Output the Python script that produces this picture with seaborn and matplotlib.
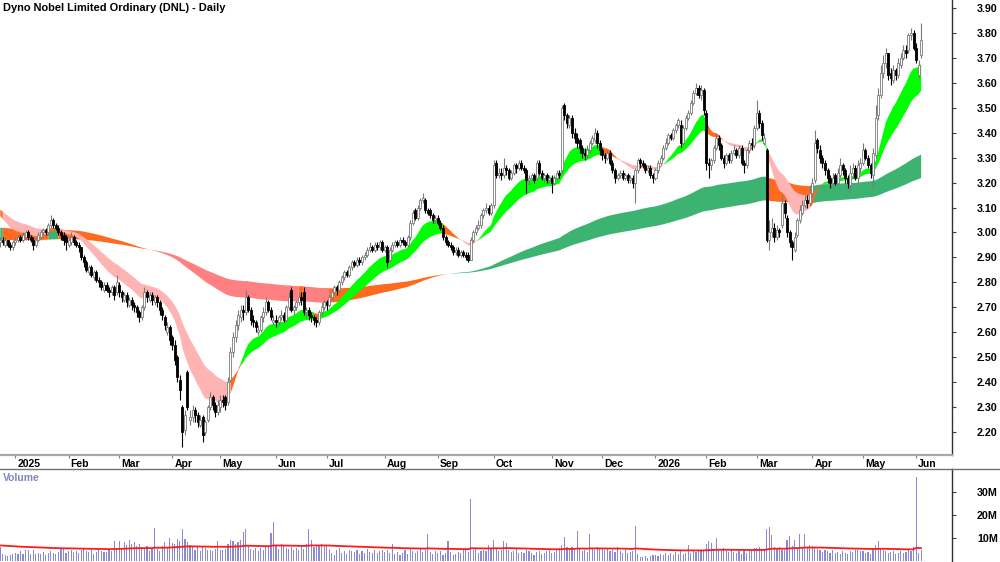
import numpy as np
import pandas as pd
import matplotlib
matplotlib.use("Agg")
import matplotlib.pyplot as plt
import seaborn as sns
from matplotlib.transforms import ScaledTranslation
from matplotlib.lines import Line2D

# ---- data (ASX trading days, 20 Dec 2024 .. 3 Jun 2026) ----
start_date = "2024-12-20"
end_date = "2026-06-03"
holidays = ["2024-12-25", "2024-12-26", "2025-01-01", "2025-01-27", "2025-04-18",
            "2025-04-21", "2025-04-25", "2025-06-09", "2025-12-25", "2025-12-26",
            "2026-01-01", "2026-01-26", "2026-04-03", "2026-04-06"]

closes = [
    2.97, 2.96, 2.97, 2.95, 2.94, 2.96,
    2.97, 2.98, 2.97, 2.99, 3.00, 2.98, 2.97, 2.95, 2.97, 2.99, 3.00, 3.01, 3.00, 3.03, 3.05, 3.03, 3.02, 3.00, 2.99, 2.97, 2.96,
    2.97, 2.98, 2.96, 2.95, 2.94, 2.90, 2.88, 2.85, 2.86, 2.83, 2.84, 2.81, 2.80, 2.78, 2.79, 2.77, 2.76, 2.78, 2.75, 2.80,
    2.76, 2.74, 2.75, 2.72, 2.73, 2.71, 2.70, 2.68, 2.66, 2.70, 2.76, 2.74, 2.75, 2.73, 2.74, 2.72, 2.69, 2.67, 2.63, 2.62, 2.57,
    2.55, 2.49, 2.42, 2.37, 2.20, 2.27, 2.30, 2.26, 2.29, 2.27, 2.24, 2.25, 2.19, 2.24, 2.30, 2.34, 2.31, 2.28, 2.31,
    2.33, 2.32, 2.31, 2.40, 2.52, 2.58, 2.63, 2.67, 2.69, 2.68, 2.74, 2.69, 2.65, 2.64, 2.62, 2.61, 2.66, 2.68, 2.72, 2.69, 2.66, 2.65,
    2.64, 2.66, 2.67, 2.65, 2.70, 2.74, 2.69, 2.70, 2.72, 2.74, 2.73, 2.68, 2.69, 2.67, 2.66, 2.65, 2.64, 2.68, 2.70, 2.72,
    2.71, 2.74, 2.76, 2.78, 2.77, 2.80, 2.82, 2.84, 2.83, 2.86, 2.88, 2.87, 2.89, 2.88, 2.90, 2.91, 2.93, 2.94, 2.93, 2.95, 2.94, 2.96, 2.93,
    2.94, 2.88, 2.93, 2.95, 2.96, 2.95, 2.97, 2.96, 2.95, 2.98, 3.04, 3.08, 3.06, 3.10, 3.13, 3.14, 3.09, 3.08, 3.07, 3.05, 3.06,
    3.04, 3.02, 2.98, 2.96, 2.95, 2.94, 2.92, 2.93, 2.91, 2.92, 2.91, 2.90, 2.89, 2.97, 3.00, 3.02, 3.03, 3.07, 3.09, 3.10, 3.08, 3.11,
    3.27, 3.23, 3.24, 3.23, 3.26, 3.25, 3.22, 3.24, 3.27, 3.26, 3.28, 3.26, 3.25, 3.21, 3.22, 3.23, 3.21, 3.28, 3.24, 3.22, 3.23, 3.21, 3.22,
    3.20, 3.22, 3.24, 3.23, 3.50, 3.47, 3.44, 3.46, 3.40, 3.38, 3.36, 3.34, 3.32, 3.31, 3.33, 3.36, 3.38, 3.40, 3.36, 3.33,
    3.31, 3.30, 3.32, 3.28, 3.25, 3.22, 3.23, 3.24, 3.22, 3.23, 3.21, 3.22, 3.20, 3.25, 3.29, 3.28, 3.27, 3.25, 3.26, 3.23, 3.22,
    3.25, 3.28, 3.30, 3.34, 3.36, 3.39, 3.38, 3.41, 3.43, 3.45, 3.36, 3.42, 3.46, 3.48, 3.52, 3.56, 3.58, 3.55, 3.57, 3.49,
    3.28, 3.27, 3.29, 3.34, 3.38, 3.35, 3.30, 3.28, 3.31, 3.29, 3.32, 3.33, 3.31, 3.34, 3.28, 3.27, 3.33, 3.36, 3.35, 3.42,
    3.48, 3.44, 3.39, 3.38, 2.97, 3.00, 3.02, 2.98, 3.01, 3.00, 3.12, 3.08, 3.00, 2.96, 2.94, 2.98, 3.05, 3.09, 3.11, 3.13, 3.12, 3.16,
    3.20, 3.36, 3.34, 3.30, 3.28, 3.25, 3.22, 3.20, 3.22, 3.20, 3.24, 3.27, 3.25, 3.22, 3.20, 3.24, 3.26, 3.22, 3.27, 3.28,
    3.33, 3.30, 3.27, 3.24, 3.32, 3.46, 3.55, 3.64, 3.68, 3.72, 3.63, 3.62, 3.65, 3.63, 3.68, 3.70, 3.73, 3.72, 3.79, 3.80, 3.74,
    3.69, 3.67, 3.77,
]

opens = [
    2.96, 2.97, 2.95, 2.97, 2.95, 2.94,
    2.96, 2.97, 2.98, 2.97, 2.98, 3.00, 2.98, 2.97, 2.95, 2.97, 2.98, 3.00, 3.01, 3.00, 3.03, 3.05, 3.03, 3.02, 3.00, 2.99, 2.98,
    2.95, 2.96, 2.98, 2.96, 2.95, 2.94, 2.90, 2.88, 2.84, 2.86, 2.82, 2.84, 2.81, 2.80, 2.77, 2.79, 2.77, 2.76, 2.78, 2.76,
    2.79, 2.76, 2.73, 2.75, 2.71, 2.73, 2.71, 2.70, 2.68, 2.66, 2.70, 2.76, 2.73, 2.75, 2.72, 2.74, 2.72, 2.69, 2.66, 2.60, 2.62,
    2.58, 2.55, 2.50, 2.41, 2.30, 2.21, 2.44, 2.25, 2.26, 2.29, 2.27, 2.23, 2.26, 2.20, 2.25, 2.30, 2.34, 2.31, 2.28,
    2.30, 2.33, 2.34, 2.32, 2.41, 2.52, 2.58, 2.63, 2.66, 2.69, 2.68, 2.74, 2.69, 2.65, 2.64, 2.60, 2.61, 2.66, 2.68, 2.72, 2.69, 2.64,
    2.65, 2.64, 2.66, 2.67, 2.65, 2.70, 2.77, 2.69, 2.70, 2.72, 2.74, 2.76, 2.68, 2.69, 2.67, 2.66, 2.65, 2.64, 2.68, 2.70,
    2.72, 2.71, 2.74, 2.76, 2.78, 2.77, 2.80, 2.82, 2.84, 2.83, 2.86, 2.88, 2.87, 2.89, 2.88, 2.90, 2.91, 2.93, 2.94, 2.93, 2.95, 2.94, 2.96,
    2.93, 2.94, 2.89, 2.93, 2.95, 2.96, 2.95, 2.97, 2.96, 2.95, 2.98, 3.04, 3.09, 3.06, 3.10, 3.13, 3.13, 3.09, 3.09, 3.07, 3.05,
    3.06, 3.04, 3.02, 2.98, 2.96, 2.95, 2.94, 2.92, 2.93, 2.91, 2.92, 2.91, 2.91, 2.89, 2.97, 3.00, 3.02, 3.03, 3.07, 3.09, 3.10, 3.08,
    3.11, 3.28, 3.23, 3.24, 3.23, 3.26, 3.25, 3.22, 3.24, 3.27, 3.26, 3.28, 3.26, 3.25, 3.21, 3.22, 3.23, 3.22, 3.28, 3.24, 3.22, 3.23, 3.21,
    3.22, 3.20, 3.22, 3.24, 3.25, 3.51, 3.47, 3.43, 3.46, 3.40, 3.38, 3.37, 3.34, 3.32, 3.31, 3.33, 3.36, 3.37, 3.40, 3.36,
    3.33, 3.31, 3.30, 3.32, 3.28, 3.25, 3.22, 3.23, 3.24, 3.22, 3.23, 3.21, 3.22, 3.20, 3.25, 3.29, 3.28, 3.27, 3.25, 3.26, 3.23,
    3.22, 3.25, 3.28, 3.30, 3.34, 3.36, 3.39, 3.38, 3.41, 3.43, 3.43, 3.36, 3.42, 3.46, 3.48, 3.52, 3.56, 3.58, 3.55, 3.57,
    3.48, 3.28, 3.27, 3.29, 3.34, 3.38, 3.35, 3.30, 3.28, 3.31, 3.29, 3.32, 3.33, 3.31, 3.34, 3.28, 3.27, 3.33, 3.36, 3.35,
    3.42, 3.48, 3.44, 3.36, 3.33, 2.97, 3.00, 3.02, 2.98, 3.01, 3.03, 3.12, 3.06, 3.00, 2.96, 2.93, 2.99, 3.05, 3.08, 3.11, 3.13, 3.12,
    3.16, 3.21, 3.37, 3.33, 3.30, 3.28, 3.25, 3.22, 3.20, 3.23, 3.20, 3.23, 3.27, 3.25, 3.22, 3.19, 3.24, 3.26, 3.22, 3.26,
    3.28, 3.33, 3.30, 3.27, 3.23, 3.31, 3.47, 3.55, 3.64, 3.68, 3.72, 3.64, 3.61, 3.65, 3.63, 3.67, 3.70, 3.73, 3.73, 3.79, 3.80,
    3.74, 3.63, 3.71,
]

highs = [
    2.98, 2.98, 2.98, 2.97, 2.96, 2.97,
    2.98, 2.99, 2.99, 3.00, 3.01, 3.01, 2.99, 2.98, 2.98, 3.00, 3.01, 3.02, 3.02, 3.04, 3.07, 3.06, 3.04, 3.03, 3.01, 3.00, 2.99,
    2.98, 3.00, 2.99, 2.97, 2.96, 2.94, 2.91, 2.89, 2.87, 2.87, 2.85, 2.85, 2.82, 2.81, 2.80, 2.80, 2.78, 2.79, 2.79, 2.83,
    2.80, 2.77, 2.76, 2.76, 2.74, 2.74, 2.72, 2.71, 2.69, 2.71, 2.78, 2.77, 2.76, 2.76, 2.75, 2.75, 2.73, 2.70, 2.67, 2.64, 2.63,
    2.59, 2.57, 2.51, 2.43, 2.31, 2.29, 2.45, 2.29, 2.31, 2.30, 2.28, 2.27, 2.27, 2.25, 2.31, 2.36, 2.35, 2.32, 2.33,
    2.35, 2.35, 2.35, 2.42, 2.54, 2.60, 2.65, 2.69, 2.71, 2.71, 2.77, 2.75, 2.70, 2.67, 2.65, 2.63, 2.67, 2.70, 2.74, 2.73, 2.70, 2.67,
    2.67, 2.67, 2.69, 2.68, 2.71, 2.76, 2.78, 2.71, 2.73, 2.76, 2.76, 2.78, 2.70, 2.70, 2.68, 2.67, 2.66, 2.69, 2.72, 2.73,
    2.73, 2.75, 2.77, 2.79, 2.79, 2.81, 2.83, 2.85, 2.85, 2.87, 2.89, 2.89, 2.90, 2.90, 2.91, 2.92, 2.94, 2.96, 2.95, 2.96, 2.96, 2.97, 2.97,
    2.95, 2.95, 2.94, 2.96, 2.97, 2.97, 2.98, 2.98, 2.97, 2.99, 3.05, 3.09, 3.10, 3.11, 3.14, 3.16, 3.14, 3.10, 3.10, 3.08, 3.07,
    3.07, 3.05, 3.03, 2.99, 2.97, 2.96, 2.95, 2.94, 2.94, 2.93, 2.93, 2.92, 2.92, 2.98, 3.01, 3.03, 3.05, 3.08, 3.10, 3.12, 3.11, 3.12,
    3.29, 3.29, 3.26, 3.26, 3.30, 3.27, 3.26, 3.25, 3.28, 3.28, 3.29, 3.29, 3.27, 3.26, 3.23, 3.24, 3.24, 3.29, 3.29, 3.25, 3.24, 3.24, 3.23,
    3.23, 3.23, 3.25, 3.25, 3.51, 3.52, 3.48, 3.47, 3.47, 3.42, 3.40, 3.38, 3.35, 3.34, 3.35, 3.37, 3.39, 3.42, 3.41, 3.37,
    3.34, 3.32, 3.33, 3.33, 3.29, 3.26, 3.24, 3.25, 3.25, 3.24, 3.24, 3.23, 3.23, 3.26, 3.30, 3.30, 3.29, 3.28, 3.27, 3.27, 3.24,
    3.26, 3.29, 3.31, 3.35, 3.38, 3.40, 3.40, 3.42, 3.44, 3.46, 3.45, 3.43, 3.47, 3.49, 3.53, 3.57, 3.60, 3.59, 3.59, 3.58,
    3.49, 3.30, 3.30, 3.35, 3.40, 3.39, 3.36, 3.31, 3.32, 3.32, 3.33, 3.35, 3.34, 3.35, 3.35, 3.29, 3.34, 3.37, 3.38, 3.43,
    3.53, 3.49, 3.45, 3.40, 3.34, 3.05, 3.06, 3.04, 3.03, 3.02, 3.15, 3.13, 3.07, 3.01, 2.97, 3.00, 3.06, 3.11, 3.13, 3.15, 3.15, 3.19,
    3.22, 3.41, 3.38, 3.35, 3.31, 3.29, 3.26, 3.23, 3.24, 3.24, 3.26, 3.30, 3.28, 3.26, 3.23, 3.27, 3.28, 3.27, 3.29, 3.30,
    3.36, 3.34, 3.31, 3.28, 3.34, 3.51, 3.58, 3.67, 3.71, 3.74, 3.72, 3.66, 3.67, 3.66, 3.70, 3.72, 3.75, 3.75, 3.80, 3.82, 3.81,
    3.76, 3.69, 3.84,
]

lows = [
    2.94, 2.95, 2.94, 2.94, 2.93, 2.93,
    2.95, 2.96, 2.96, 2.96, 2.97, 2.97, 2.96, 2.93, 2.94, 2.96, 2.97, 2.99, 2.99, 2.99, 3.02, 3.02, 3.01, 2.99, 2.97, 2.95, 2.93,
    2.94, 2.95, 2.95, 2.94, 2.92, 2.89, 2.86, 2.84, 2.83, 2.82, 2.81, 2.80, 2.78, 2.77, 2.76, 2.76, 2.74, 2.75, 2.73, 2.75,
    2.74, 2.72, 2.72, 2.70, 2.70, 2.69, 2.68, 2.66, 2.64, 2.65, 2.69, 2.72, 2.72, 2.71, 2.71, 2.70, 2.67, 2.65, 2.61, 2.59, 2.55,
    2.53, 2.47, 2.40, 2.33, 2.14, 2.19, 2.29, 2.23, 2.24, 2.24, 2.22, 2.22, 2.16, 2.19, 2.24, 2.29, 2.29, 2.26, 2.27,
    2.28, 2.30, 2.29, 2.31, 2.40, 2.50, 2.56, 2.61, 2.64, 2.65, 2.67, 2.68, 2.63, 2.62, 2.60, 2.59, 2.60, 2.64, 2.67, 2.68, 2.65, 2.63,
    2.62, 2.63, 2.65, 2.64, 2.64, 2.69, 2.68, 2.67, 2.69, 2.71, 2.71, 2.67, 2.66, 2.65, 2.64, 2.63, 2.62, 2.63, 2.67, 2.69,
    2.69, 2.70, 2.73, 2.75, 2.75, 2.76, 2.79, 2.81, 2.82, 2.82, 2.85, 2.86, 2.86, 2.87, 2.87, 2.89, 2.90, 2.92, 2.92, 2.92, 2.93, 2.93, 2.92,
    2.92, 2.86, 2.88, 2.92, 2.94, 2.94, 2.94, 2.95, 2.94, 2.94, 2.97, 3.03, 3.05, 3.05, 3.09, 3.12, 3.08, 3.07, 3.06, 3.04, 3.04,
    3.03, 3.01, 2.97, 2.95, 2.94, 2.93, 2.91, 2.91, 2.90, 2.90, 2.90, 2.89, 2.88, 2.89, 2.96, 2.99, 3.01, 3.02, 3.06, 3.08, 3.07, 3.07,
    3.10, 3.22, 3.22, 3.21, 3.22, 3.23, 3.21, 3.21, 3.23, 3.24, 3.25, 3.25, 3.24, 3.16, 3.19, 3.21, 3.20, 3.21, 3.23, 3.21, 3.20, 3.20, 3.20,
    3.16, 3.19, 3.21, 3.22, 3.24, 3.45, 3.42, 3.42, 3.38, 3.36, 3.34, 3.32, 3.30, 3.29, 3.30, 3.32, 3.35, 3.36, 3.34, 3.31,
    3.29, 3.28, 3.29, 3.27, 3.24, 3.20, 3.21, 3.22, 3.21, 3.21, 3.20, 3.20, 3.18, 3.12, 3.24, 3.26, 3.26, 3.24, 3.24, 3.22, 3.20,
    3.21, 3.24, 3.27, 3.29, 3.33, 3.35, 3.37, 3.37, 3.40, 3.42, 3.34, 3.35, 3.41, 3.45, 3.47, 3.51, 3.55, 3.54, 3.53, 3.47,
    3.25, 3.22, 3.25, 3.28, 3.33, 3.33, 3.29, 3.26, 3.27, 3.28, 3.28, 3.31, 3.30, 3.30, 3.27, 3.24, 3.26, 3.32, 3.33, 3.34,
    3.41, 3.42, 3.37, 3.35, 2.96, 2.93, 2.98, 2.96, 2.97, 2.98, 3.02, 3.06, 2.98, 2.94, 2.89, 2.92, 2.98, 3.04, 3.07, 3.10, 3.10, 3.11,
    3.14, 3.20, 3.32, 3.28, 3.26, 3.23, 3.20, 3.18, 3.19, 3.19, 3.19, 3.22, 3.23, 3.20, 3.18, 3.16, 3.22, 3.21, 3.20, 3.24,
    3.27, 3.29, 3.26, 3.22, 3.18, 3.30, 3.45, 3.54, 3.62, 3.66, 3.61, 3.59, 3.60, 3.61, 3.62, 3.66, 3.69, 3.70, 3.72, 3.77, 3.73,
    3.68, 3.62, 3.70,
]

# daily volume, millions of shares
volumes_m = [
    6.0, 3.2, 2.4, 2.2, 2.8, 3.0,
    3.4, 3.1, 4.2, 3.0, 4.6, 5.0, 3.2, 4.8, 2.9, 3.5, 3.0, 4.1, 2.7, 3.4, 4.4, 3.6, 2.9, 4.0, 5.1, 5.8, 3.3,
    4.2, 4.8, 3.9, 4.4, 3.6, 4.9, 5.2, 4.3, 3.8, 4.7, 3.1, 4.0, 5.6, 4.4, 3.9, 3.7, 5.0, 4.2, 8.6, 5.3,
    8.6, 5.5, 8.4, 6.8, 9.0, 7.5, 8.2, 6.6, 7.2, 6.0, 5.8, 6.6, 4.5, 5.6, 14.5, 5.2, 4.3, 6.4, 8.4, 5.5, 9.9,
    8.0, 7.2, 9.5, 8.8, 13.8, 9.6, 8.4, 7.0, 6.6, 4.8, 6.4, 4.4, 6.2, 5.8, 4.6, 5.0, 4.2, 5.4, 8.7,
    5.0, 4.6, 5.2, 7.4, 9.0, 8.6, 7.2, 8.2, 9.2, 12.8, 13.8, 6.4, 5.2, 4.6, 5.8, 4.2, 5.6, 4.8, 5.9, 6.2, 12.0, 16.8,
    6.6, 5.4, 7.2, 7.0, 5.8, 5.2, 6.0, 4.8, 5.6, 5.0, 6.4, 5.2, 7.6, 13.7, 9.0, 6.2, 7.0, 6.8, 7.2, 6.6,
    6.8, 5.2, 3.4, 2.8, 4.6, 5.8, 3.6, 4.4, 3.2, 5.0, 4.2, 3.8, 4.6, 3.0, 4.4, 3.6, 5.2, 4.0, 3.4, 4.8, 3.6, 4.2, 5.0,
    3.8, 4.6, 3.6, 7.4, 3.2, 4.0, 2.8, 3.4, 4.6, 3.0, 5.6, 4.4, 3.6, 4.2, 5.2, 3.8, 4.8, 11.6, 4.0, 3.2, 4.4,
    3.6, 4.2, 2.8, 3.4, 8.7, 3.8, 2.6, 3.2, 4.0, 3.4, 4.8, 5.6, 3.8, 26.8, 4.6, 5.8, 3.6, 4.2, 5.0, 4.4, 6.8, 5.2,
    9.0, 5.6, 4.2, 5.0, 8.7, 8.0, 4.6, 3.8, 4.4, 5.2, 3.6, 4.0, 3.4, 5.0, 4.2, 3.6, 2.8, 3.8, 4.4, 3.2, 3.6, 4.2, 5.0,
    3.4, 4.0, 4.6, 5.8, 7.0, 10.3, 6.2, 5.4, 6.0, 4.8, 13.0, 5.6, 4.4, 5.0, 3.8, 11.6, 5.2, 4.6, 6.0, 5.4,
    5.8, 4.8, 5.2, 4.4, 5.0, 3.8, 6.2, 4.2, 3.6, 4.6, 3.4, 4.0, 4.4, 15.2, 3.2, 1.8, 1.6, 2.2, 1.4, 2.0, 2.4,
    2.6, 2.2, 3.0, 2.8, 3.4, 2.4, 3.6, 2.8, 4.0, 3.2, 4.2, 3.0, 3.6, 7.0, 3.4, 4.4, 3.8, 4.6, 5.0, 4.8,
    7.6, 8.6, 8.0, 4.8, 10.1, 5.2, 4.6, 5.6, 4.2, 3.8, 5.4, 4.0, 3.6, 4.4, 3.2, 4.8, 3.6, 4.2, 5.0, 5.6,
    5.6, 6.2, 5.0, 4.6, 13.9, 14.6, 11.2, 6.0, 5.6, 6.2, 5.0, 4.8, 9.0, 10.7, 6.4, 9.0, 5.8, 11.6, 6.0, 11.6, 6.2, 6.8,
    6.4, 5.8, 5.2, 4.6, 3.8, 5.0, 4.2, 3.6, 4.8, 3.4, 4.0, 3.2, 4.4, 3.6, 3.0, 4.2, 3.8, 5.0, 4.6, 4.2,
    4.4, 3.6, 4.0, 3.2, 5.4, 6.8, 8.5, 5.6, 4.8, 4.2, 3.6, 3.8, 4.4, 3.0, 3.6, 4.2, 3.4, 4.0, 4.8, 4.2, 6.0,
    36.4, 3.4, 4.6,
]

# ribbon averages (EMA spans) and their values at the chart's left edge
short_spans = (15, 30)
long_spans = (150, 250)
short_seed = (3.08, 3.10)
long_seed = (3.02, 2.97)
vol_span, vol_seed = 100, 6.8

price_ticks = np.round(np.arange(2.2, 3.91, 0.1), 2)
vol_ticks = [10, 20, 30]


def ema(values, span, seed):
    a = 2.0 / (span + 1)
    out = np.empty(len(values))
    prev = seed
    for k, v in enumerate(values):
        prev = prev + a * (v - prev)
        out[k] = prev
    return out


def ribbon(ax, x, fast, slow, trend, colours, z):
    # colour 0 = fast above slow and trend line rising, 2 = below and falling, 1 = mixed
    rising = np.diff(trend, prepend=trend[0]) >= 0
    above = fast >= slow
    state = np.where(above & rising, 0, np.where(~above & ~rising, 2, 1))
    lo, hi = np.minimum(fast, slow), np.maximum(fast, slow)
    for s, col in enumerate(colours):
        m = state == s
        m = m | np.concatenate([[False], m[:-1]])
        ax.fill_between(x, lo, hi, where=m, color=col, lw=0, zorder=z)


dates = pd.bdate_range(start_date, end_date, freq="C", holidays=holidays)
df = pd.DataFrame({"date": dates, "open": opens, "high": highs, "low": lows,
                   "close": closes, "volume": volumes_m})
df["i"] = np.arange(len(df))
x = df["i"].to_numpy()

sf = ema(df["close"], short_spans[0], short_seed[0])
ss = ema(df["close"], short_spans[1], short_seed[1])
lf = ema(df["close"], long_spans[0], long_seed[0])
ls = ema(df["close"], long_spans[1], long_seed[1])
df["vol_ma"] = ema(df["volume"], vol_span, vol_seed)

sns.set_theme(style="white")
plt.rcParams["font.family"] = ["Liberation Sans", "DejaVu Sans"]
plt.rcParams["font.weight"] = "bold"

fig = plt.figure(figsize=(10, 5.62), dpi=100)
W, H = 1000, 562
ax = fig.add_axes([0, (H - 455) / H, 952 / W, 455 / H])
axv = fig.add_axes([0, 0, 952 / W, 93 / H])

xlim = (-0.1, 376.2)

# ribbons: long one underneath, short one on top
ribbon(ax, x, lf, ls, lf, ("#3cb371", "#ff6a1f", "#ff8080"), 1)
ribbon(ax, x, sf, ss, ss, ("#00ff00", "#ff6a1f", "#ffb4b4"), 2)

# candles
up = df["close"] >= df["open"]
body_lo = np.minimum(df["open"], df["close"])
body_h = np.maximum((df["close"] - df["open"]).abs(), 0.004)
edge = np.where(up, "#7a7a7a", "black")
ax.vlines(x, df["low"], df["high"], colors=edge, lw=0.8, zorder=3)
ax.bar(x, body_h, bottom=body_lo, width=0.8, color=np.where(up, "white", "black"),
       edgecolor=edge, linewidth=0.6, zorder=4)

ax.set_xlim(*xlim)
ax.set_ylim(2.108, 3.932)
ax.yaxis.tick_right()
ax.set_yticks(price_ticks)
ax.set_yticklabels([f"{v:.2f}" for v in price_ticks])
ax.tick_params(axis="y", right=True, left=False, labelright=True, labelleft=False,
               direction="out", length=3, width=0.8, color="#404040", pad=15,
               labelsize=7.7, labelcolor="black")

# month ticks on the date strip
month_start = df.index[(df["date"].dt.month != df["date"].dt.month.shift()) & (df.index > 0)]
mlabels = [str(d.year) if d.month == 1 else d.strftime("%b") for d in df.loc[month_start, "date"]]
ax.set_xticks(month_start)
ax.set_xticklabels(mlabels)
ax.tick_params(axis="x", bottom=True, direction="out", length=2.5, width=0.8,
               color="#808080", pad=0.5, labelsize=7.5, labelcolor="black")
for lbl in ax.get_xticklabels():
    lbl.set_ha("left")
    lbl.set_transform(lbl.get_transform() + ScaledTranslation(1.5 / 72, 0, fig.dpi_scale_trans))

for s in ("top", "left"):
    ax.spines[s].set_visible(False)
ax.spines["right"].set_color("#303030")
ax.spines["right"].set_linewidth(1.0)
ax.spines["bottom"].set_color("#a8a8a8")
ax.spines["bottom"].set_linewidth(1.6)

ax.text(3 / 952, 1 - 8 / 455, "Dyno Nobel Limited Ordinary (DNL) - Daily",
        transform=ax.transAxes, ha="left", va="center", fontsize=7.9,
        fontweight="bold", color="black", zorder=6)

# volume panel
axv.bar(x, df["volume"], width=0.45, color="#8a8ad4", lw=0, zorder=2)
sns.lineplot(data=df, x="i", y="vol_ma", ax=axv, color="#ff1a1a", lw=1.3, zorder=3)
axv.set_xlim(*xlim)
axv.set_ylim(-0.43, 40.0)
axv.set_xlabel("")
axv.set_ylabel("")
axv.set_xticks([])
axv.yaxis.tick_right()
axv.set_yticks(vol_ticks)
axv.set_yticklabels([f"{v}M" for v in vol_ticks])
axv.tick_params(axis="y", right=True, left=False, labelright=True, labelleft=False,
                direction="out", length=3, width=0.8, color="#404040", pad=15,
                labelsize=7.7, labelcolor="black")
for s in ("left", "bottom"):
    axv.spines[s].set_visible(False)
axv.spines["right"].set_color("#303030")
axv.spines["right"].set_linewidth(1.0)
axv.spines["top"].set_color("#707070")
axv.spines["top"].set_linewidth(1.0)
axv.text(3 / 952, 1 - 9 / 93, "Volume", transform=axv.transAxes, ha="left", va="center",
         fontsize=7.5, fontweight="bold", color="#8484c4")

# strip line continues under the price scale
fig.add_artist(Line2D([952 / W, 1], [93 / H, 93 / H], color="#707070", lw=1.0))

fig.savefig("out.png", dpi=100)
